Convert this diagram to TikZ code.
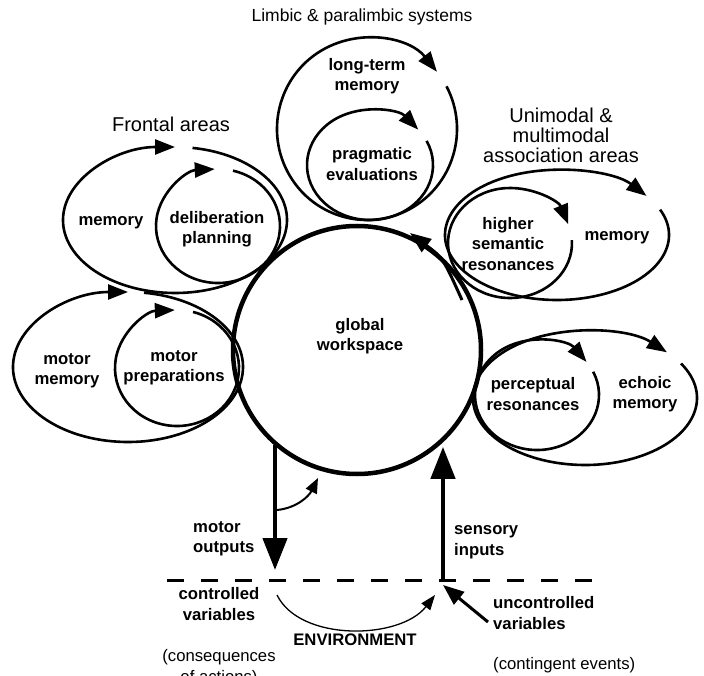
\documentclass[tikz,border=0pt]{standalone}
\usepackage{fontspec}
\setmainfont{Liberation Sans}
\usetikzlibrary{arrows.meta}
\newcommand\cycarc[6]{%
  \draw[cyc,#6] ([shift={(#4:#2 and #3)}]#1) arc[start angle=#4,end angle=#5,x radius=#2,y radius=#3];}
\begin{document}
\begin{tikzpicture}[x=1pt,y=-1pt,
  cyc/.style={line width=2.6pt,-{Triangle[length=20pt,width=15pt]}},
  lbl/.style={font=\bfseries\fontsize{16.7}{20.5}\selectfont,align=center,inner sep=0pt},
  ttl/.style={font=\fontsize{20}{20}\selectfont,align=center,inner sep=0pt},
  note/.style={font=\fontsize{16.7}{21}\selectfont,align=center,inner sep=0pt},
  bigarrow/.style={line width=4.5pt,-{Triangle[length=32pt,width=24pt]}},
  midarrow/.style={line width=3pt,-{Triangle[length=21pt,width=16pt]}},
  smallarrow/.style={line width=2pt,-{Triangle[length=15pt,width=12pt]}},
  envarrow/.style={line width=1.3pt,-{Triangle[length=15pt,width=11pt]}}
]
\useasboundingbox (0,0) rectangle (704,676);
\clip (0,0) rectangle (704,676);

% centres of the loops
\coordinate (fo) at (175,220);   % frontal outer
\coordinate (fi) at (218,226);   % frontal inner
\coordinate (mo) at (128,367);   % motor outer
\coordinate (mi) at (177,368);   % motor inner
\coordinate (lo) at (367,129);   % limbic outer
\coordinate (li) at (370,165);   % limbic inner
\coordinate (uo) at (557,235);   % unimodal outer
\coordinate (ui) at (510,243);   % unimodal inner
\coordinate (eo) at (585,398);   % echoic outer
\coordinate (ei) at (537,395);   % echoic inner

% global workspace
\node[circle,draw,line width=4.5pt,minimum size=248pt,inner sep=0pt] (gw) at (357,350) {};
\node[lbl] (gwt) at (360,336) {global\\workspace};

% loops
\cycarc{fo}{112}{73}{-81}{270}{}
\cycarc{fi}{62}{57}{-76}{267}{}
\cycarc{mo}{115}{75}{-82}{270}{}
\cycarc{mi}{62}{58}{-75}{268}{}
\cycarc{lo}{90}{91}{-28}{321}{}
\cycarc{li}{63}{55}{-26}{320}{}
\cycarc{uo}{112}{65}{-23}{323}{}
\cycarc{ui}{62}{55}{-3}{340}{}
\cycarc{eo}{112}{67}{-31}{317}{}
\cycarc{ei}{62}{55}{-25}{323}{}

% titles
\node[font=\fontsize{17.5}{20}\selectfont,inner sep=0pt] (tlim) at (362,17) {Limbic \& paralimbic systems};
\node[ttl] (tfro) at (171,124) {Frontal areas};
\node[ttl] (tuni) at (561,135) {Unimodal \&\\multimodal\\association areas};

% labels
\node[lbl] (ltm) at (367,76) {long-term\\memory};
\node[lbl] (prag) at (372,164) {pragmatic\\evaluations};
\node[lbl] (fmem) at (111,223) {memory};
\node[lbl] (delib) at (217,229) {deliberation\\planning};
\node[lbl] (mmem) at (67,371) {motor\\memory};
\node[lbl] (mprep) at (174,368) {motor\\preparations};
\node[lbl] (hsr) at (508,244) {higher\\semantic\\resonances};
\node[lbl] (umem) at (617,238) {memory};
\node[lbl] (perc) at (533,394) {perceptual\\resonances};
\node[lbl] (echo) at (645,394) {echoic\\memory};

% higher semantic -> global workspace
\coordinate (ha) at (462,300);
\coordinate (hb) at (410,233);
\draw[midarrow] (ha) .. controls (443,258) .. (hb);

% environment part
\coordinate (mout) at (275,570);
\coordinate (sin) at (443,580);
\draw[bigarrow] (mout |- gw.229) -- (mout);
\draw[bigarrow,shorten >=6pt] (sin) -- (sin |- gw.314);

\coordinate (sc) at (277,510);
\coordinate (sce) at (318,478);
\draw[smallarrow] (sc) .. controls (297,508) and (309,496) .. (sce);

\coordinate (da) at (167,580);
\coordinate (db) at (592,580);
\draw[line width=3pt,dash pattern=on 17pt off 17pt] (da) -- (db);

\coordinate (ea) at (277,595);
\coordinate (eb) at (435,595);
\draw[envarrow] (ea) .. controls (300,642) and (400,640) .. (eb);

\coordinate (ua) at (488,622);
\coordinate (ub) at (443,585);
\draw[midarrow] (ua) -- (ub);

\node[lbl,align=left,anchor=west] (mot) at (193,539) {motor\\outputs};
\node[lbl,align=left,anchor=west] (sens) at (454,542) {sensory\\inputs};
\node[lbl] (ctrl) at (219,604) {controlled\\variables};
\node[lbl] (env) at (355,640) {ENVIRONMENT};
\node[lbl,align=left,anchor=west] (unc) at (493,613) {uncontrolled\\variables};
\node[note] (cons) at (219,668) {(consequences\\of actions)};
\node[note,anchor=west] (cont) at (493,665) {(contingent events)};
\end{tikzpicture}
\end{document}
